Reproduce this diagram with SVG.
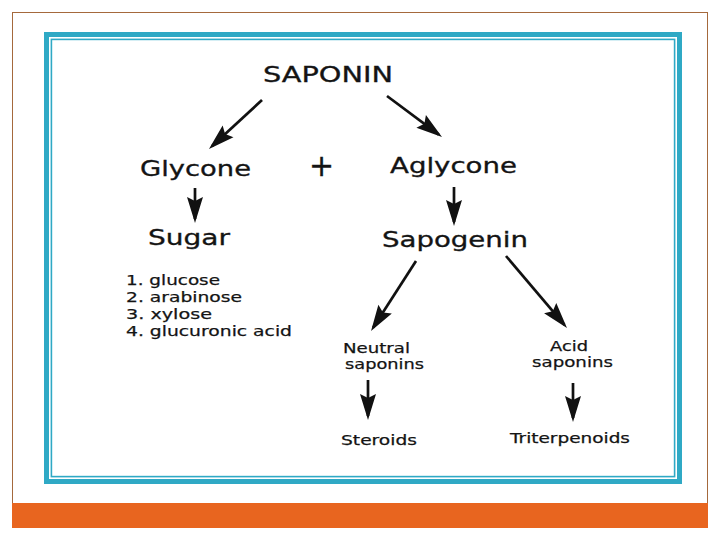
<svg xmlns="http://www.w3.org/2000/svg" width="720" height="540" viewBox="0 0 720 540">
<style>
.big{font-family:"DejaVu Sans","Liberation Sans",sans-serif;font-size:20.5px;fill:#141414;stroke:#141414;stroke-width:0.3}
.sm{font-family:"DejaVu Sans","Liberation Sans",sans-serif;font-size:14.5px;fill:#141414;stroke:#141414;stroke-width:0.25}
.conn{stroke:#111;stroke-width:2.7;fill:none;marker-end:url(#ah)}
</style>
<defs>
<marker id="ah" markerUnits="userSpaceOnUse" markerWidth="28" markerHeight="18" viewBox="-22 -9 28 18" refX="0" refY="0" orient="auto" overflow="visible">
<path d="M4,0 L-22,-8 L-18,0 L-22,8 Z" fill="#111"/>
</marker>
</defs>
<rect width="720" height="540" fill="#fff"/>
<g id="frame">
<rect x="12.5" y="12.5" width="695" height="515" fill="none" stroke="#a5693c" stroke-width="1"/>
<rect x="12" y="503" width="696" height="25" fill="#e8651f"/>
<rect x="46.5" y="34.5" width="633" height="447" fill="none" stroke="#2fa9c5" stroke-width="5"/>
<rect x="51.4" y="39.4" width="623.2" height="437.2" fill="none" stroke="#2fa9c5" stroke-width="1.6"/>
</g>
<g id="connectors">
<line class="conn" x1="262" y1="100" x2="211.9" y2="146.3"/>
<line class="conn" x1="387" y1="96" x2="438.8" y2="134.6"/>
<line class="conn" x1="195" y1="188" x2="195" y2="219"/>
<line class="conn" x1="454" y1="187" x2="454" y2="222"/>
<line class="conn" x1="416" y1="261" x2="373.2" y2="327.6"/>
<line class="conn" x1="506" y1="256" x2="564.4" y2="324.9"/>
<line class="conn" x1="368" y1="380" x2="368" y2="416"/>
<line class="conn" x1="573" y1="383" x2="573" y2="418"/>
</g>
<g id="n-saponin"><text class="big" x="263" y="82" textLength="130" lengthAdjust="spacingAndGlyphs">SAPONIN</text></g>
<g id="n-glycone"><text class="big" x="140" y="176" textLength="111" lengthAdjust="spacingAndGlyphs">Glycone</text></g>
<g id="n-plus"><text class="big" x="321.5" y="175.5" style="font-size:30px" text-anchor="middle">+</text></g>
<g id="n-aglycone"><text class="big" x="390" y="173" textLength="127" lengthAdjust="spacingAndGlyphs">Aglycone</text></g>
<g id="n-sugar"><text class="big" x="148" y="245" textLength="82" lengthAdjust="spacingAndGlyphs">Sugar</text></g>
<g id="n-list">
<text class="sm" x="126" y="285" textLength="94" lengthAdjust="spacingAndGlyphs">1. glucose</text>
<text class="sm" x="126" y="302" textLength="116" lengthAdjust="spacingAndGlyphs">2. arabinose</text>
<text class="sm" x="126" y="319" textLength="86" lengthAdjust="spacingAndGlyphs">3. xylose</text>
<text class="sm" x="126" y="336" textLength="166" lengthAdjust="spacingAndGlyphs">4. glucuronic acid</text>
</g>
<g id="n-sapogenin"><text class="big" x="382" y="247" textLength="146" lengthAdjust="spacingAndGlyphs">Sapogenin</text></g>
<g id="n-neutral">
<text class="sm" x="343" y="353" textLength="67" lengthAdjust="spacingAndGlyphs">Neutral</text>
<text class="sm" x="345" y="369" textLength="79" lengthAdjust="spacingAndGlyphs">saponins</text>
</g>
<g id="n-acid">
<text class="sm" x="550" y="351" textLength="38" lengthAdjust="spacingAndGlyphs">Acid</text>
<text class="sm" x="532" y="367" textLength="81" lengthAdjust="spacingAndGlyphs">saponins</text>
</g>
<g id="n-steroids"><text class="sm" x="341" y="445" textLength="76" lengthAdjust="spacingAndGlyphs">Steroids</text></g>
<g id="n-triterpenoids"><text class="sm" x="510" y="443" textLength="120" lengthAdjust="spacingAndGlyphs">Triterpenoids</text></g>
</svg>
